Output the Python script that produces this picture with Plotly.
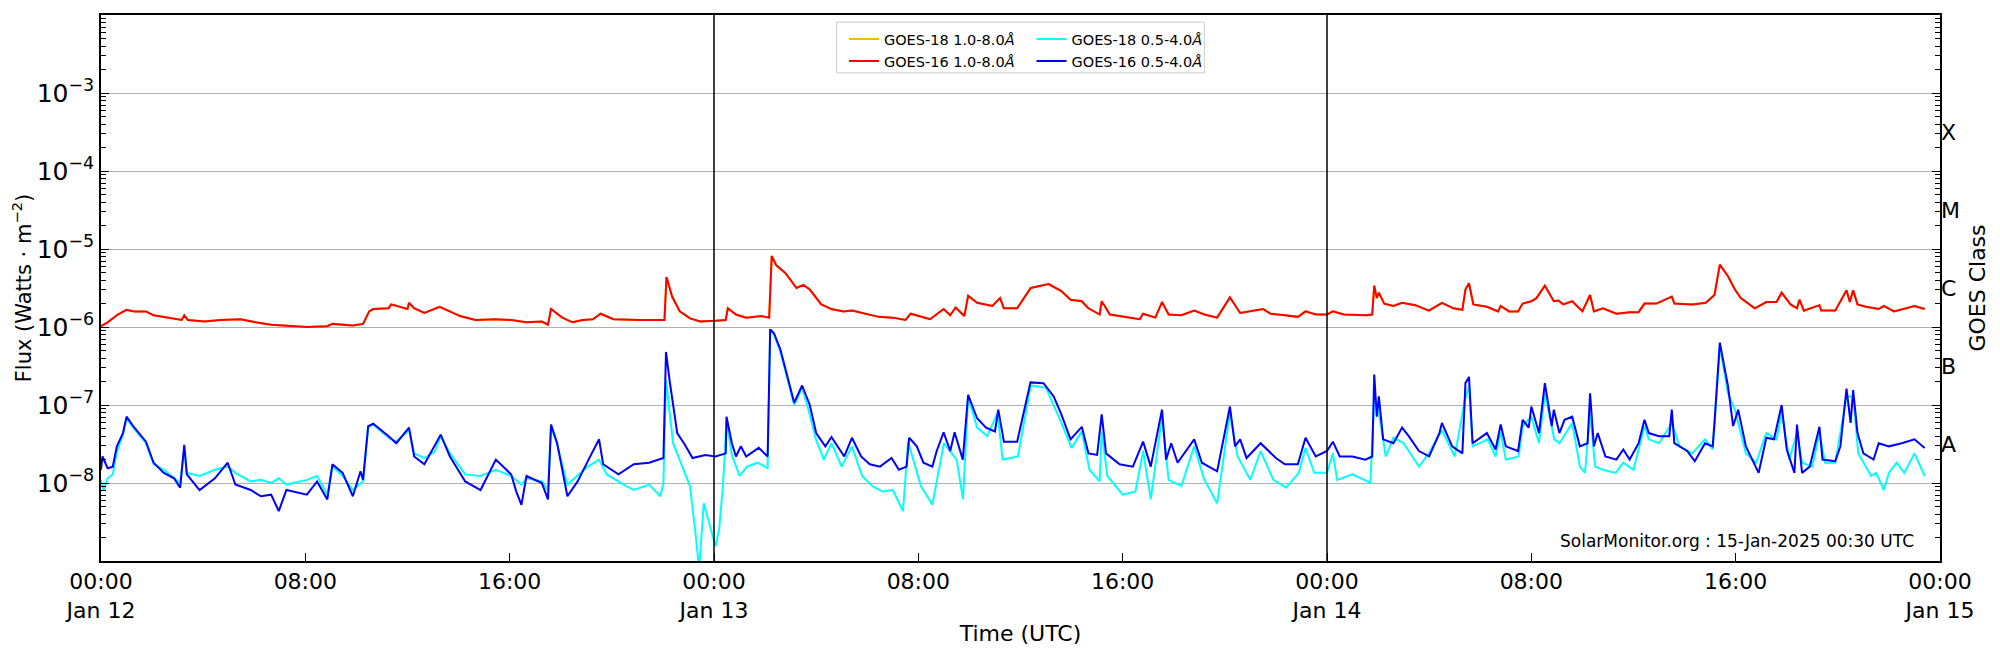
import plotly.graph_objects as go
import pandas as pd

start = pd.Timestamp("2025-01-12 00:00")

# (hours since 2025-01-12 00:00 UTC, log10 flux W/m^2)
goes16_long = [
    (0, -5.99), (0.26, -5.94), (0.66, -5.84), (1.0, -5.78), (1.3, -5.80), (1.76, -5.80), (2.06, -5.85),
    (2.66, -5.88), (3.16, -5.91), (3.26, -5.85), (3.4, -5.91), (4.06, -5.93), (4.66, -5.91), (5.46, -5.90),
    (6.06, -5.94), (6.66, -5.97), (7.26, -5.98), (8.06, -6.00), (8.86, -5.99), (9.06, -5.96), (9.86, -5.98),
    (10.26, -5.96), (10.5, -5.80), (10.66, -5.77), (11.26, -5.76), (11.36, -5.71), (12.0, -5.77), (12.06, -5.69),
    (12.26, -5.76), (12.66, -5.82), (13.26, -5.74), (13.46, -5.77), (14.06, -5.86), (14.66, -5.91), (15.46, -5.90),
    (16.06, -5.91), (16.66, -5.94), (17.26, -5.93), (17.5, -5.97), (17.62, -5.77), (18.06, -5.88), (18.46, -5.94),
    (18.86, -5.91), (19.26, -5.90), (19.56, -5.83), (20.06, -5.90), (21.06, -5.91), (22.06, -5.91), (22.14, -5.36),
    (22.36, -5.61), (22.66, -5.80), (23.06, -5.89), (23.46, -5.93), (24.06, -5.92), (24.46, -5.91), (24.54, -5.76),
    (24.86, -5.84), (25.26, -5.88), (25.86, -5.86), (26.16, -5.88), (26.26, -5.09), (26.44, -5.21), (26.8, -5.31),
    (27.23, -5.50), (27.5, -5.46), (27.75, -5.52), (28.2, -5.71), (28.6, -5.77), (29.06, -5.80), (29.4, -5.79),
    (29.9, -5.83), (30.45, -5.87), (31.0, -5.88), (31.5, -5.91), (31.7, -5.83), (32.0, -5.86), (32.46, -5.90),
    (32.99, -5.77), (33.25, -5.85), (33.46, -5.75), (33.8, -5.86), (33.95, -5.60), (34.3, -5.69), (34.9, -5.73),
    (35.2, -5.63), (35.35, -5.76), (35.87, -5.76), (36.4, -5.50), (37.1, -5.45), (37.6, -5.54), (37.96, -5.65),
    (38.4, -5.67), (38.66, -5.76), (39.1, -5.84), (39.18, -5.67), (39.5, -5.84), (40.05, -5.87), (40.67, -5.90),
    (40.8, -5.83), (41.28, -5.88), (41.54, -5.68), (41.8, -5.84), (42.3, -5.85), (42.8, -5.79), (43.2, -5.84),
    (43.7, -5.88), (44.2, -5.62), (44.6, -5.82), (45.5, -5.77), (45.8, -5.83), (46.35, -5.85), (46.86, -5.87),
    (47.16, -5.80), (47.56, -5.84), (48.0, -5.84), (48.23, -5.80), (48.66, -5.84), (49.54, -5.85), (49.77, -5.84),
    (49.85, -5.47), (49.95, -5.63), (50.03, -5.56), (50.24, -5.70), (50.6, -5.73), (50.94, -5.69), (51.46, -5.72),
    (51.99, -5.79), (52.5, -5.69), (52.95, -5.76), (53.3, -5.78), (53.42, -5.52), (53.56, -5.44), (53.73, -5.71),
    (54.26, -5.74), (54.7, -5.80), (54.8, -5.73), (55.13, -5.80), (55.48, -5.80), (55.66, -5.70), (56.0, -5.67),
    (56.2, -5.63), (56.53, -5.47), (56.88, -5.67), (57.06, -5.66), (57.25, -5.71), (57.6, -5.67), (58.0, -5.80),
    (58.3, -5.59), (58.45, -5.80), (58.8, -5.76), (59.33, -5.83), (59.85, -5.81), (60.2, -5.81), (60.43, -5.70),
    (60.9, -5.70), (61.5, -5.61), (61.6, -5.70), (62.3, -5.71), (62.83, -5.69), (63.17, -5.59), (63.38, -5.20),
    (63.7, -5.35), (63.97, -5.52), (64.2, -5.63), (64.75, -5.76), (65.2, -5.68), (65.6, -5.68), (65.8, -5.56),
    (66.15, -5.71), (66.4, -5.76), (66.5, -5.65), (66.67, -5.79), (67.28, -5.72), (67.35, -5.79), (67.9, -5.79),
    (68.34, -5.53), (68.47, -5.68), (68.6, -5.53), (68.77, -5.71), (69.1, -5.74), (69.6, -5.77), (69.8, -5.73),
    (70.2, -5.80), (71.0, -5.73), (71.4, -5.77),
]
goes18_long = list(goes16_long)

goes16_short = [
    (0, -7.83), (0.06, -7.66), (0.26, -7.81), (0.46, -7.79), (0.62, -7.53), (0.86, -7.36), (1.0, -7.15),
    (1.26, -7.27), (1.76, -7.47), (2.06, -7.74), (2.46, -7.87), (2.86, -7.94), (3.1, -8.06), (3.26, -7.51),
    (3.36, -7.89), (3.86, -8.09), (4.46, -7.94), (4.96, -7.74), (5.26, -8.02), (5.86, -8.09), (6.26, -8.17),
    (6.66, -8.15), (6.96, -8.36), (7.26, -8.09), (8.06, -8.15), (8.46, -7.98), (8.86, -8.21), (9.06, -7.76),
    (9.46, -7.87), (9.86, -8.17), (10.16, -7.85), (10.26, -7.96), (10.46, -7.27), (10.66, -7.24), (11.26, -7.40),
    (11.56, -7.49), (12.06, -7.29), (12.26, -7.66), (12.66, -7.76), (13.06, -7.53), (13.3, -7.38), (13.66, -7.66),
    (14.26, -7.98), (14.86, -8.09), (15.46, -7.70), (16.06, -7.89), (16.26, -8.11), (16.46, -8.28), (16.66, -7.91),
    (17.26, -8.00), (17.5, -8.21), (17.62, -7.25), (17.86, -7.49), (18.26, -8.17), (18.66, -7.98), (19.06, -7.72),
    (19.5, -7.44), (19.66, -7.76), (20.26, -7.89), (20.86, -7.76), (21.46, -7.74), (22.02, -7.68), (22.12, -6.32),
    (22.26, -6.68), (22.56, -7.36), (22.86, -7.51), (23.16, -7.68), (23.66, -7.64), (24.06, -7.66), (24.46, -7.62),
    (24.49, -7.15), (24.7, -7.49), (24.86, -7.66), (25.05, -7.53), (25.26, -7.66), (25.75, -7.55), (26.1, -7.66),
    (26.2, -6.03), (26.35, -6.08), (26.6, -6.29), (27.14, -6.97), (27.45, -6.75), (27.75, -7.00), (28.0, -7.36),
    (28.36, -7.53), (28.6, -7.41), (28.9, -7.57), (29.1, -7.66), (29.4, -7.42), (29.76, -7.66), (30.1, -7.76),
    (30.5, -7.79), (30.95, -7.68), (31.24, -7.83), (31.54, -7.79), (31.64, -7.42), (31.94, -7.53), (32.2, -7.74),
    (32.55, -7.79), (32.72, -7.59), (32.99, -7.35), (33.25, -7.59), (33.42, -7.35), (33.74, -7.70), (33.95, -6.87),
    (34.3, -7.17), (34.65, -7.29), (35.0, -7.34), (35.13, -7.06), (35.35, -7.47), (35.87, -7.47), (36.39, -6.71),
    (36.9, -6.72), (37.3, -6.89), (37.6, -7.12), (37.96, -7.44), (38.4, -7.28), (38.66, -7.62), (39.0, -7.64),
    (39.18, -7.12), (39.35, -7.62), (39.88, -7.76), (40.4, -7.79), (40.8, -7.47), (41.1, -7.79), (41.54, -7.06),
    (41.7, -7.70), (41.9, -7.49), (42.15, -7.74), (42.8, -7.44), (43.1, -7.74), (43.7, -7.85), (44.2, -7.02),
    (44.4, -7.53), (44.6, -7.44), (44.85, -7.68), (45.4, -7.49), (46.0, -7.68), (46.35, -7.76), (46.86, -7.76),
    (47.16, -7.42), (47.56, -7.66), (48.0, -7.59), (48.23, -7.47), (48.5, -7.66), (49.0, -7.66), (49.5, -7.70),
    (49.77, -7.66), (49.85, -6.61), (49.95, -7.15), (50.03, -6.89), (50.2, -7.44), (50.6, -7.49), (50.94, -7.29),
    (51.2, -7.40), (51.6, -7.59), (52.0, -7.66), (52.4, -7.36), (52.5, -7.23), (52.9, -7.53), (53.3, -7.62),
    (53.42, -6.72), (53.56, -6.64), (53.7, -7.49), (54.26, -7.36), (54.6, -7.57), (54.8, -7.25), (55.0, -7.53),
    (55.48, -7.59), (55.66, -7.19), (55.9, -7.29), (56.0, -7.02), (56.3, -7.36), (56.53, -6.72), (56.8, -7.27),
    (56.88, -7.06), (57.1, -7.36), (57.3, -7.19), (57.6, -7.15), (57.9, -7.53), (58.2, -7.49), (58.3, -6.85),
    (58.45, -7.53), (58.6, -7.36), (58.9, -7.66), (59.33, -7.70), (59.6, -7.57), (59.85, -7.70), (60.2, -7.49),
    (60.43, -7.19), (60.6, -7.36), (61.0, -7.40), (61.4, -7.40), (61.5, -7.06), (61.6, -7.49), (62.1, -7.59),
    (62.4, -7.72), (62.8, -7.49), (63.1, -7.53), (63.17, -7.23), (63.38, -6.20), (63.7, -6.76), (63.9, -7.27),
    (64.1, -7.06), (64.4, -7.53), (64.7, -7.74), (64.9, -7.87), (65.2, -7.42), (65.5, -7.44), (65.8, -7.00),
    (66.0, -7.57), (66.3, -7.87), (66.4, -7.25), (66.6, -7.87), (66.9, -7.79), (67.28, -7.28), (67.4, -7.70),
    (67.9, -7.72), (68.1, -7.53), (68.34, -6.79), (68.5, -7.23), (68.6, -6.81), (68.77, -7.36), (69.0, -7.62),
    (69.4, -7.70), (69.6, -7.49), (70.0, -7.53), (70.5, -7.49), (71.0, -7.44), (71.4, -7.55),
]

goes18_short = [
    (0, -7.96), (0.1, -8.09), (0.26, -7.94), (0.46, -7.89), (0.62, -7.60), (0.86, -7.38), (1.0, -7.17),
    (1.26, -7.29), (1.76, -7.49), (2.06, -7.76), (2.46, -7.83), (2.86, -7.94), (3.1, -8.00), (3.26, -7.55),
    (3.36, -7.87), (3.86, -7.91), (4.46, -7.83), (4.96, -7.79), (5.26, -7.87), (5.86, -7.98), (6.26, -7.96),
    (6.66, -8.00), (6.96, -7.94), (7.26, -8.02), (8.06, -7.96), (8.46, -7.91), (8.86, -8.15), (9.06, -7.79),
    (9.46, -7.91), (9.86, -8.09), (10.26, -7.98), (10.46, -7.29), (10.66, -7.25), (11.26, -7.42), (11.56, -7.47),
    (12.06, -7.32), (12.26, -7.62), (12.66, -7.68), (13.06, -7.60), (13.3, -7.40), (13.66, -7.62), (14.26, -7.89),
    (14.86, -7.91), (15.46, -7.83), (16.06, -7.91), (16.46, -8.02), (16.66, -7.94), (17.26, -7.98), (17.5, -8.09),
    (17.62, -7.28), (17.86, -7.51), (18.26, -8.02), (18.66, -7.91), (19.06, -7.79), (19.5, -7.70), (19.8, -7.89),
    (20.46, -8.02), (20.86, -8.09), (21.46, -8.02), (21.9, -8.17), (22.02, -8.00), (22.12, -6.68), (22.4, -7.49),
    (22.7, -7.74), (23.06, -8.04), (23.26, -8.60), (23.42, -9.10), (23.6, -8.26), (23.86, -8.56), (24.06, -8.81),
    (24.2, -8.60), (24.35, -8.04), (24.49, -7.19), (24.7, -7.64), (25.0, -7.91), (25.3, -7.79), (25.7, -7.74),
    (26.1, -7.81), (26.2, -6.03), (26.35, -6.10), (26.6, -6.32), (27.14, -7.00), (27.45, -6.78), (27.7, -7.06),
    (28.0, -7.45), (28.3, -7.70), (28.6, -7.49), (29.0, -7.79), (29.4, -7.53), (29.8, -7.91), (30.2, -8.04),
    (30.6, -8.11), (31.0, -8.09), (31.4, -8.36), (31.6, -7.47), (32.1, -8.04), (32.55, -8.28), (33.0, -7.49),
    (33.5, -7.70), (33.75, -8.21), (33.95, -6.89), (34.3, -7.29), (34.7, -7.40), (35.1, -7.10), (35.3, -7.70),
    (35.9, -7.66), (36.4, -6.75), (37.0, -6.78), (37.6, -7.23), (38.0, -7.55), (38.4, -7.34), (38.7, -7.83),
    (39.1, -7.98), (39.18, -7.34), (39.4, -7.91), (40.0, -8.15), (40.5, -8.11), (40.8, -7.59), (41.1, -8.21),
    (41.54, -7.15), (41.8, -7.96), (42.3, -8.04), (42.8, -7.53), (43.2, -7.96), (43.7, -8.26), (44.2, -7.10),
    (44.5, -7.66), (45.0, -7.96), (45.4, -7.59), (45.9, -7.96), (46.4, -8.06), (46.9, -7.87), (47.16, -7.55),
    (47.5, -7.87), (48.0, -7.87), (48.23, -7.62), (48.4, -7.96), (49.0, -7.89), (49.7, -8.00), (49.85, -6.89),
    (50.03, -7.10), (50.3, -7.66), (50.6, -7.42), (51.0, -7.49), (51.6, -7.79), (51.99, -7.62), (52.5, -7.32),
    (53.0, -7.66), (53.4, -6.93), (53.56, -6.76), (53.7, -7.53), (54.3, -7.44), (54.6, -7.66), (54.8, -7.35),
    (55.0, -7.70), (55.5, -7.66), (55.66, -7.27), (56.0, -7.15), (56.3, -7.49), (56.53, -6.85), (56.9, -7.44),
    (57.1, -7.49), (57.6, -7.23), (57.9, -7.79), (58.1, -7.87), (58.3, -7.10), (58.5, -7.79), (58.8, -7.83),
    (59.3, -7.87), (59.6, -7.74), (60.0, -7.83), (60.43, -7.27), (60.6, -7.44), (61.0, -7.49), (61.5, -7.23),
    (61.8, -7.53), (62.3, -7.62), (62.8, -7.44), (63.1, -7.57), (63.38, -6.25), (63.7, -6.85), (63.97, -7.06),
    (64.4, -7.62), (64.8, -7.74), (65.2, -7.36), (65.6, -7.44), (65.8, -7.10), (66.1, -7.70), (66.4, -7.36),
    (66.6, -7.74), (67.0, -7.79), (67.28, -7.36), (67.5, -7.74), (67.9, -7.74), (68.34, -6.89), (68.6, -6.89),
    (68.8, -7.62), (69.1, -7.79), (69.3, -7.91), (69.5, -7.87), (69.8, -8.09), (70.0, -7.87), (70.3, -7.74),
    (70.6, -7.87), (71.0, -7.62), (71.4, -7.91),
]

# (name, data, colour, legend column)
series = [
    ("GOES-18 1.0-8.0<i>Å</i>", goes18_long, "#ffb800", "legend"),
    ("GOES-18 0.5-4.0<i>Å</i>", goes18_short, "#00ffff", "legend2"),
    ("GOES-16 1.0-8.0<i>Å</i>", goes16_long, "#ff0000", "legend"),
    ("GOES-16 0.5-4.0<i>Å</i>", goes16_short, "#0000ff", "legend2"),
]

tick_hours = [0, 8, 16, 24, 32, 40, 48, 56, 64, 72]
tick_text = ["00:00<br>Jan 12", "08:00", "16:00", "00:00<br>Jan 13", "08:00", "16:00",
             "00:00<br>Jan 14", "08:00", "16:00", "00:00<br>Jan 15"]
flux_ticks = [-8, -7, -6, -5, -4, -3]
class_labels = ["A", "B", "C", "M", "X"]
class_pos = [-7.5, -6.5, -5.5, -4.5, -3.5]
minor_vals = [m * 10.0 ** e for e in range(-9, -2) for m in range(2, 10)]

FONT = "DejaVu Sans"
fig = go.Figure()
for name, pts, col, lg in series:
    fig.add_trace(go.Scatter(
        x=[start + pd.Timedelta(hours=h) for h, _ in pts],
        y=[10 ** v for _, v in pts],
        mode="lines", name=name, line=dict(color=col, width=2), legend=lg,
    ))
fig.add_trace(go.Scatter(x=[start], y=[1e-6], yaxis="y2", showlegend=False,
                         mode="markers", marker=dict(opacity=0), hoverinfo="skip"))

for d in ["2025-01-13", "2025-01-14"]:
    fig.add_shape(type="line", x0=d, x1=d, y0=0, y1=1, yref="paper",
                  line=dict(color="black", width=1.5))
# legend frame
fig.add_shape(type="rect", xref="paper", yref="paper", x0=0.400, x1=0.600, y0=0.894, y1=0.987,
              line=dict(color="#cccccc", width=1), fillcolor="white", layer="above")

leg_common = dict(orientation="v", yanchor="top", y=0.985, bgcolor="rgba(0,0,0,0)",
                  borderwidth=0, font=dict(size=14.5), itemwidth=30, tracegroupgap=0)
fig.update_layout(
    width=1984, height=642,
    margin=dict(l=93, r=52, t=7, b=89),
    paper_bgcolor="white", plot_bgcolor="white",
    font=dict(family=FONT, color="black"),
    xaxis=dict(
        range=[start, start + pd.Timedelta(hours=72)], automargin=False,
        tickvals=[start + pd.Timedelta(hours=h) for h in tick_hours], ticktext=tick_text,
        ticks="inside", ticklen=8, tickcolor="black", showgrid=False,
        showline=True, linecolor="black", linewidth=1.5, mirror=True,
        tickfont=dict(size=22), title=dict(text="Time (UTC)", font=dict(size=22), standoff=4),
    ),
    yaxis=dict(
        type="log", range=[-9, -2], automargin=False,
        tickvals=[10 ** v for v in flux_ticks],
        ticktext=[f"10<sup>−{abs(v)}</sup>" for v in flux_ticks],
        ticks="inside", ticklen=8, tickcolor="black",
        minor=dict(ticks="inside", ticklen=5, tickcolor="black", showgrid=False, tickvals=minor_vals),
        showgrid=True, gridcolor="#b0b0b0", gridwidth=1.2,
        showline=True, linecolor="black", linewidth=1.5, mirror="allticks",
        tickfont=dict(size=25),
        title=dict(text="Flux (Watts · m<sup>−2</sup>)", font=dict(size=21), standoff=4),
    ),
    yaxis2=dict(
        type="log", range=[-9, -2], overlaying="y", side="right", automargin=False,
        tickvals=[10 ** v for v in class_pos], ticktext=class_labels,
        ticks="", showgrid=False, zeroline=False, tickfont=dict(size=22),
        title=dict(text="GOES Class", font=dict(size=22), standoff=10),
    ),
    legend=dict(x=0.404, xanchor="left", **leg_common),
    legend2=dict(x=0.506, xanchor="left", **leg_common),
    showlegend=True,
)
fig.add_annotation(text="SolarMonitor.org : 15-Jan-2025 00:30 UTC", xref="paper", yref="paper",
                   x=0.987, y=0.015, xanchor="right", yanchor="bottom", showarrow=False,
                   font=dict(size=17, family=FONT))

fig.write_html("out.html")
